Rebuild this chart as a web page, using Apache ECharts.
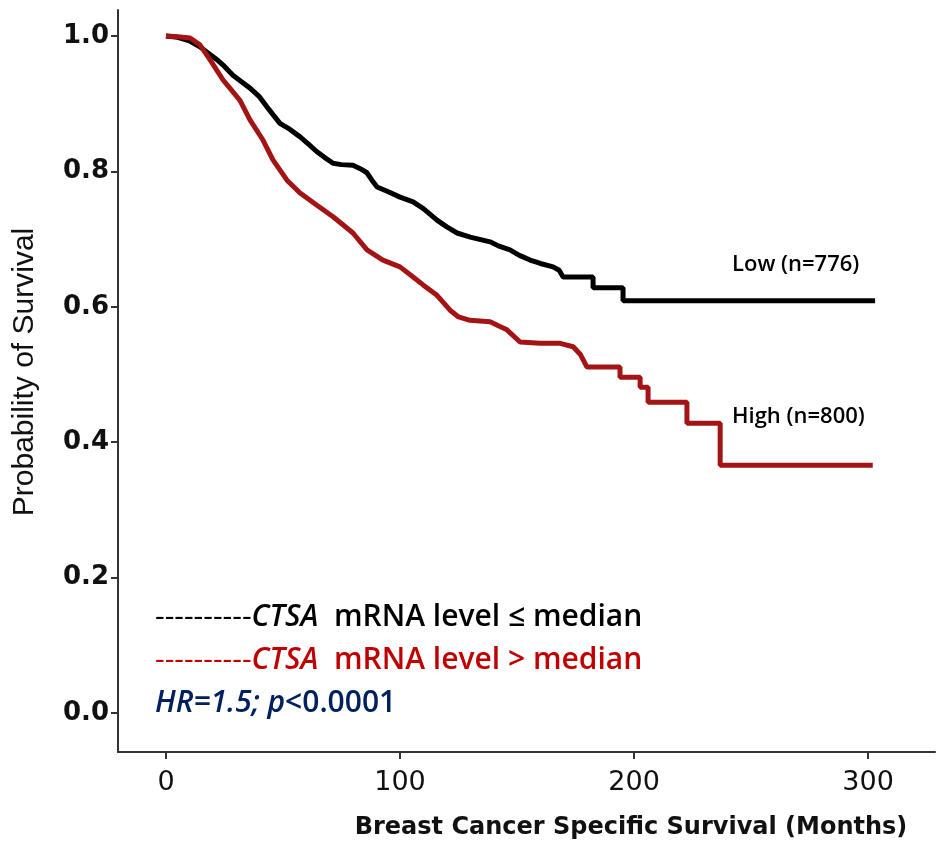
<!DOCTYPE html>
<html>
<head>
<meta charset="utf-8">
<script src="https://cdn.jsdelivr.net/npm/echarts@6/dist/echarts.min.js"></script>
<style>html,body{margin:0;padding:0;background:#fff;}#c{width:937px;height:845px;}</style>
</head>
<body>
<div id="c"></div>
<script>
// Kaplan-Meier survival estimates: [months, probability]
var lowSurvival = [[0,1.0],[5,0.998],[10,0.993],[14.5,0.984],[18,0.975],[21.8,0.965],[25,0.955],[28.6,0.942],[32,0.933],[35.9,0.923],[40,0.91],[43.2,0.895],[48.7,0.871],[53,0.862],[57.3,0.851],[61,0.84],[64.5,0.829],[68,0.82],[71.4,0.812],[75,0.81],[79.9,0.809],[83,0.804],[85.9,0.798],[88,0.787],[90.2,0.777],[95,0.77],[100,0.762],[105.6,0.755],[110,0.745],[115.8,0.728],[120,0.718],[124.4,0.709],[130,0.703],[138.5,0.696],[142,0.69],[147,0.684],[151,0.676],[155.6,0.669],[160,0.664],[165.4,0.659],[168,0.654],[169.7,0.644],[182.5,0.644],[182.5,0.628],[195.3,0.628],[195.3,0.609],[303,0.609]];
var highSurvival = [[0,1.0],[5,0.999],[10.3,0.997],[14.5,0.987],[18.8,0.965],[24.4,0.935],[28,0.92],[31.6,0.905],[35.9,0.876],[41.5,0.846],[45.7,0.817],[51.7,0.787],[57.3,0.768],[64.5,0.75],[71.4,0.733],[76,0.72],[79.9,0.709],[85.9,0.684],[92.7,0.669],[100,0.659],[105.6,0.644],[110,0.632],[115.8,0.617],[121.4,0.595],[125,0.585],[129.9,0.58],[138.5,0.578],[142,0.572],[145.7,0.566],[151.3,0.548],[159.8,0.546],[168.4,0.546],[174,0.541],[177,0.53],[179.9,0.511],[194,0.511],[194,0.496],[202.6,0.496],[202.6,0.481],[206,0.481],[206,0.459],[222.6,0.459],[222.6,0.428],[236.8,0.428],[236.8,0.366],[302,0.366]];
var xTicks = [0, 100, 200, 300];
var yTicks = [0, 0.2, 0.4, 0.6, 0.8, 1.0];
var groupLabels = ['Low (n=776)', 'High (n=800)'];
var xTitle = 'Breast Cancer Specific Survival (Months)';
var yTitle = 'Probability of Survival';

var chart = echarts.init(document.getElementById('c'));
var axisCol = '#333';
chart.setOption({
  animation: false,
  grid: {left: 118, right: 2, top: 10, bottom: 93},
  xAxis: {
    type: 'value', min: -20.5, max: 328.6,
    axisLine: {show: true, onZero: false, lineStyle: {color: axisCol, width: 2}},
    axisTick: {show: true, customValues: xTicks, length: 7, lineStyle: {color: axisCol, width: 2}},
    axisLabel: {customValues: xTicks, margin: 17, color: '#111', fontFamily: 'DejaVu Sans', fontSize: 27},
    splitLine: {show: false}
  },
  yAxis: {
    type: 'value', min: -0.0576, max: 1.0384,
    axisLine: {show: true, onZero: false, lineStyle: {color: axisCol, width: 2}},
    axisTick: {show: true, customValues: yTicks, length: 7, lineStyle: {color: axisCol, width: 2}},
    axisLabel: {customValues: yTicks, margin: 9, color: '#111', fontFamily: 'DejaVu Sans', fontWeight: 'bold', fontSize: 26,
      formatter: function (v) { return v.toFixed(1); }},
    splitLine: {show: false}
  },
  series: [
    {type: 'line', data: lowSurvival, showSymbol: false, lineStyle: {color: '#000', width: 5}, itemStyle: {color: '#000'}},
    {type: 'line', data: highSurvival, showSymbol: false, lineStyle: {color: '#a31515', width: 5}, itemStyle: {color: '#a31515'}}
  ],
  graphic: [
    {type: 'text', x: 25, y: 372, rotation: Math.PI / 2,
      style: {text: yTitle, font: '30px "Liberation Sans"', fill: '#111', textAlign: 'center', textVerticalAlign: 'middle'}},
    {type: 'text', x: 631, y: 828,
      style: {text: xTitle, font: 'bold 24px "DejaVu Sans"', fill: '#111', textAlign: 'center', textVerticalAlign: 'middle'}},
    {type: 'text', x: 732, y: 265,
      style: {text: groupLabels[0], font: '600 22px "Open Sans"', fill: '#000', textAlign: 'left', textVerticalAlign: 'middle'}},
    {type: 'text', x: 732, y: 417,
      style: {text: groupLabels[1], font: '600 22px "Open Sans"', fill: '#000', textAlign: 'left', textVerticalAlign: 'middle'}},
    {type: 'text', x: 155, y: 617,
      style: {text: '{d|----------}{i|CTSA}{n|  mRNA level ≤ median}', fill: '#000', textVerticalAlign: 'middle',
        rich: {d: {font: '30px "Open Sans"', fill: '#000'}, i: {font: 'italic 600 30px "Open Sans"', fill: '#000'}, n: {font: '600 30px "Open Sans"', fill: '#000'}}}},
    {type: 'text', x: 155, y: 660,
      style: {text: '{d|----------}{i|CTSA}{n|  mRNA level > median}', fill: '#c00000', textVerticalAlign: 'middle',
        rich: {d: {font: '30px "Open Sans"', fill: '#c00000'}, i: {font: 'italic 600 30px "Open Sans"', fill: '#c00000'}, n: {font: '600 30px "Open Sans"', fill: '#c00000'}}}},
    {type: 'text', x: 155, y: 703,
      style: {text: '{i|HR=1.5; p}{n|<0.0001}', fill: '#002060', textVerticalAlign: 'middle',
        rich: {i: {font: 'italic 600 30px "Open Sans"', fill: '#002060'}, n: {font: '600 30px "Open Sans"', fill: '#002060'}}}}
  ]
});
</script>
</body>
</html>
